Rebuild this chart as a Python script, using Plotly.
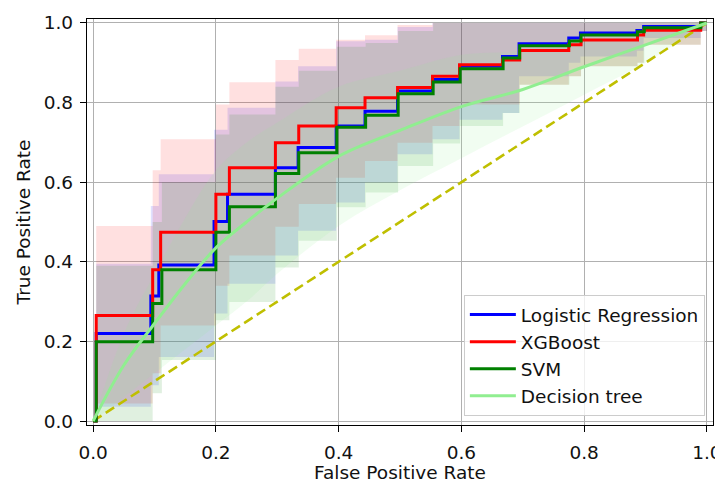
import plotly.graph_objects as go

# ---- data ----
lr_fpr = [0, 0.005, 0.094, 0.107, 0.197, 0.219, 0.297, 0.334, 0.396, 0.443, 0.496, 0.553, 0.597, 0.667, 0.694, 0.775, 0.794, 0.886, 0.897, 0.99, 1.0]
lr_tpr = [0, 0.22, 0.314, 0.392, 0.501, 0.57, 0.636, 0.687, 0.741, 0.778, 0.829, 0.858, 0.891, 0.916, 0.948, 0.962, 0.975, 0.981, 0.991, 1.0, 1.0]
lr_low = [0, 0.036, 0.09, 0.161, 0.27, 0.345, 0.416, 0.478, 0.549, 0.599, 0.67, 0.708, 0.757, 0.774, 0.866, 0.9, 0.916, 0.93, 0.962, 0.98, 1.0]
lr_up = [0, 0.395, 0.54, 0.62, 0.732, 0.787, 0.853, 0.891, 0.954, 0.958, 0.99, 1.0, 1.0, 1.0, 1.0, 1.0, 1.0, 1.0, 1.0, 1.0, 1.0]

xgb_fpr = [0, 0.005, 0.097, 0.11, 0.2, 0.222, 0.297, 0.335, 0.396, 0.443, 0.496, 0.553, 0.597, 0.667, 0.695, 0.775, 0.795, 0.887, 0.897, 0.99, 1.0]
xgb_tpr = [0, 0.265, 0.38, 0.474, 0.57, 0.636, 0.699, 0.741, 0.787, 0.812, 0.838, 0.866, 0.895, 0.907, 0.931, 0.945, 0.957, 0.97, 0.982, 1.0, 1.0]
xgb_low = [0, 0.044, 0.12, 0.24, 0.34, 0.416, 0.488, 0.545, 0.611, 0.653, 0.699, 0.741, 0.795, 0.795, 0.845, 0.866, 0.891, 0.9, 0.945, 0.98, 1.0]
xgb_up = [0, 0.49, 0.63, 0.708, 0.795, 0.851, 0.907, 0.935, 0.958, 0.969, 0.995, 1.0, 1.0, 1.0, 1.0, 1.0, 1.0, 1.0, 1.0, 1.0, 1.0]

svm_fpr = [0, 0.005, 0.097, 0.112, 0.2, 0.222, 0.297, 0.335, 0.397, 0.444, 0.497, 0.554, 0.598, 0.668, 0.695, 0.776, 0.795, 0.887, 0.898, 0.99, 1.0]
svm_tpr = [0, 0.199, 0.295, 0.38, 0.474, 0.538, 0.622, 0.674, 0.738, 0.768, 0.822, 0.852, 0.885, 0.912, 0.943, 0.955, 0.97, 0.978, 0.988, 1.0, 1.0]
svm_low = [0, 0.0, 0.07, 0.153, 0.253, 0.299, 0.386, 0.453, 0.537, 0.574, 0.641, 0.697, 0.741, 0.774, 0.845, 0.866, 0.891, 0.9, 0.945, 0.98, 1.0]
svm_up = [0, 0.39, 0.5, 0.6, 0.72, 0.77, 0.84, 0.88, 0.94, 0.95, 0.98, 1.0, 1.0, 1.0, 1.0, 1.0, 1.0, 1.0, 1.0, 1.0, 1.0]

dt_fpr = [0, 0.05, 0.1, 0.15, 0.2, 0.25, 0.3, 0.4, 0.5, 0.6, 0.7, 0.8, 0.9, 1.0]
dt_tpr = [0, 0.14, 0.245, 0.345, 0.435, 0.5, 0.56, 0.665, 0.73, 0.79, 0.833, 0.89, 0.945, 1.0]
dt_low = [0, 0.06, 0.12, 0.18, 0.24, 0.3, 0.37, 0.49, 0.58, 0.66, 0.74, 0.82, 0.9, 1.0]
dt_up = [0, 0.22, 0.37, 0.51, 0.63, 0.7, 0.75, 0.84, 0.88, 0.92, 0.93, 0.96, 0.99, 1.0]

chance = [0, 1]
tick_vals = [0, 0.2, 0.4, 0.6, 0.8, 1.0]

FONT = "DejaVu Sans"
FS = 18.5
fig = go.Figure()

models = [
    ("Logistic Regression", lr_fpr, lr_tpr, lr_low, lr_up, "blue", "rgba(0,0,255,0.12)", "hv"),
    ("XGBoost", xgb_fpr, xgb_tpr, xgb_low, xgb_up, "red", "rgba(255,0,0,0.12)", "hv"),
    ("SVM", svm_fpr, svm_tpr, svm_low, svm_up, "green", "rgba(0,128,0,0.12)", "hv"),
    ("Decision tree", dt_fpr, dt_tpr, dt_low, dt_up, "lightgreen", "rgba(144,238,144,0.13)", "spline"),
]

# bands
for name, fx, ty, lo, up, col, fcol, shape in models:
    fig.add_trace(go.Scatter(x=fx, y=lo, mode="lines", line=dict(width=0, shape=shape),
                             showlegend=False, hoverinfo="skip"))
    fig.add_trace(go.Scatter(x=fx, y=up, mode="lines", line=dict(width=0, shape=shape),
                             fill="tonexty", fillcolor=fcol, showlegend=False, hoverinfo="skip"))

# chance diagonal
fig.add_trace(go.Scatter(x=chance, y=chance, mode="lines",
                         line=dict(color="#bfbf00", width=2.6, dash="10px,5px"),
                         showlegend=False, hoverinfo="skip"))

# mean lines
for name, fx, ty, lo, up, col, fcol, shape in models:
    fig.add_trace(go.Scatter(x=fx, y=ty, mode="lines", name=name,
                             line=dict(color=col, width=3, shape=shape)))

axis_common = dict(
    showgrid=True, gridcolor="#b0b0b0", gridwidth=1.3,
    showline=True, linecolor="black", linewidth=1.3, mirror=True,
    ticks="outside", ticklen=6, tickwidth=1.3, tickcolor="black",
    tickfont=dict(family=FONT, size=FS, color="#111"),
    zeroline=False, tickformat=".1f", automargin=False,
    range=[-0.01, 1.01], tickvals=tick_vals,
)

# the page body adds an 8px offset, so the figure is 8px smaller on each axis
fig.update_layout(
    template="none",
    width=715, height=475,
    margin=dict(l=79, r=10, t=11, b=58),
    paper_bgcolor="white", plot_bgcolor="white",
    font=dict(family=FONT, size=FS, color="#111"),
    xaxis=dict(title=dict(text="False Positive Rate", font=dict(family=FONT, size=FS), standoff=1),
               ticklabelstandoff=5, **axis_common),
    yaxis=dict(title=dict(text="True Positive Rate", font=dict(family=FONT, size=FS), standoff=8),
               ticklabelstandoff=3, **axis_common),
    legend=dict(x=0.987, y=0.022, xanchor="right", yanchor="bottom", traceorder="normal",
                bgcolor="rgba(255,255,255,0.8)", bordercolor="#cccccc", borderwidth=1,
                itemwidth=46,
                font=dict(family=FONT, size=FS, color="#111"), tracegroupgap=0),
    showlegend=True,
)

fig.write_html("out.html")
